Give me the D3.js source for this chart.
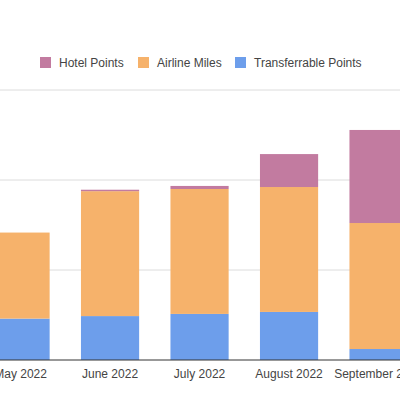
<!DOCTYPE html>
<html>
<head>
<meta charset="utf-8">
<script src="https://cdn.jsdelivr.net/npm/d3@7"></script>
<style>
  body { margin: 0; background: #fff; }
  svg { display: block; font-family: "Liberation Sans", Arial, sans-serif; }
</style>
</head>
<body>
<div id="graph"></div>
<script>
// Data (y axis is cut off, units estimated)
const months = ["May 2022", "June 2022", "July 2022", "August 2022", "September 2022"];
const transferrable = [23000, 24400, 25600, 26700, 6100];
const airline = [47800, 69400, 69400, 69400, 70000];
const hotel = [0, 800, 1700, 18300, 51700];
const gridTicks = [50000, 100000, 150000];

const seriesNames = ["Transferrable Points", "Airline Miles", "Hotel Points"];
const seriesColors = ["#6d9eeb", "#f6b26b", "#c27ba0"];
const legendOrder = ["Hotel Points", "Airline Miles", "Transferrable Points"];

const width = 400, height = 400;

const svg = d3.select("#graph").append("svg")
    .attr("width", width)
    .attr("height", height);

// Build rows for the stack
const rows = months.map((m, i) => ({
    month: m,
    "Transferrable Points": transferrable[i],
    "Airline Miles": airline[i],
    "Hotel Points": hotel[i]
}));

const stack = d3.stack().keys(seriesNames)(rows);

const xScale = d3.scaleBand()
    .domain(months)
    .range([-24.2, 423.3])
    .paddingInner(0.35)
    .paddingOuter(0.175);

const yScale = d3.scaleLinear()
    .domain([0, 200000])
    .range([360, 0]);

const color = d3.scaleOrdinal().domain(seriesNames).range(seriesColors);

// Gridlines
svg.append("g").selectAll("line").data(gridTicks).join("line")
    .attr("x1", 0).attr("x2", width)
    .attr("y1", d => yScale(d)).attr("y2", d => yScale(d))
    .attr("stroke", "#dcdcdc").attr("stroke-width", 1);

// Bars
svg.append("g").selectAll("g").data(stack).join("g")
    .attr("fill", d => color(d.key))
    .selectAll("rect").data(d => d).join("rect")
    .attr("x", d => xScale(d.data.month))
    .attr("width", xScale.bandwidth())
    .attr("y", d => yScale(d[1]))
    .attr("height", d => yScale(d[0]) - yScale(d[1]));

// Baseline
svg.append("line")
    .attr("x1", 0).attr("x2", width)
    .attr("y1", yScale(0)).attr("y2", yScale(0))
    .attr("stroke", "#333").attr("stroke-width", 1);

// Bottom axis labels
const bottomAxis = d3.axisBottom(xScale).tickSize(0).tickPadding(9);
const axisG = svg.append("g")
    .attr("transform", `translate(0, ${yScale(0)})`)
    .call(bottomAxis);
axisG.select(".domain").remove();
axisG.selectAll("text")
    .attr("fill", "#444")
    .style("font-size", "12px")
    .style("font-family", "'Liberation Sans', Arial, sans-serif");

// Legend
const legendX = [40, 138, 235];
const legend = svg.append("g").selectAll("g").data(legendOrder).join("g")
    .attr("transform", (d, i) => `translate(${legendX[i]}, 57)`);
legend.append("rect")
    .attr("width", 11).attr("height", 11)
    .attr("fill", d => color(d));
legend.append("text")
    .attr("x", 19).attr("y", 10)
    .attr("fill", "#444")
    .style("font-size", "12px")
    .text(d => d);
</script>
</body>
</html>
